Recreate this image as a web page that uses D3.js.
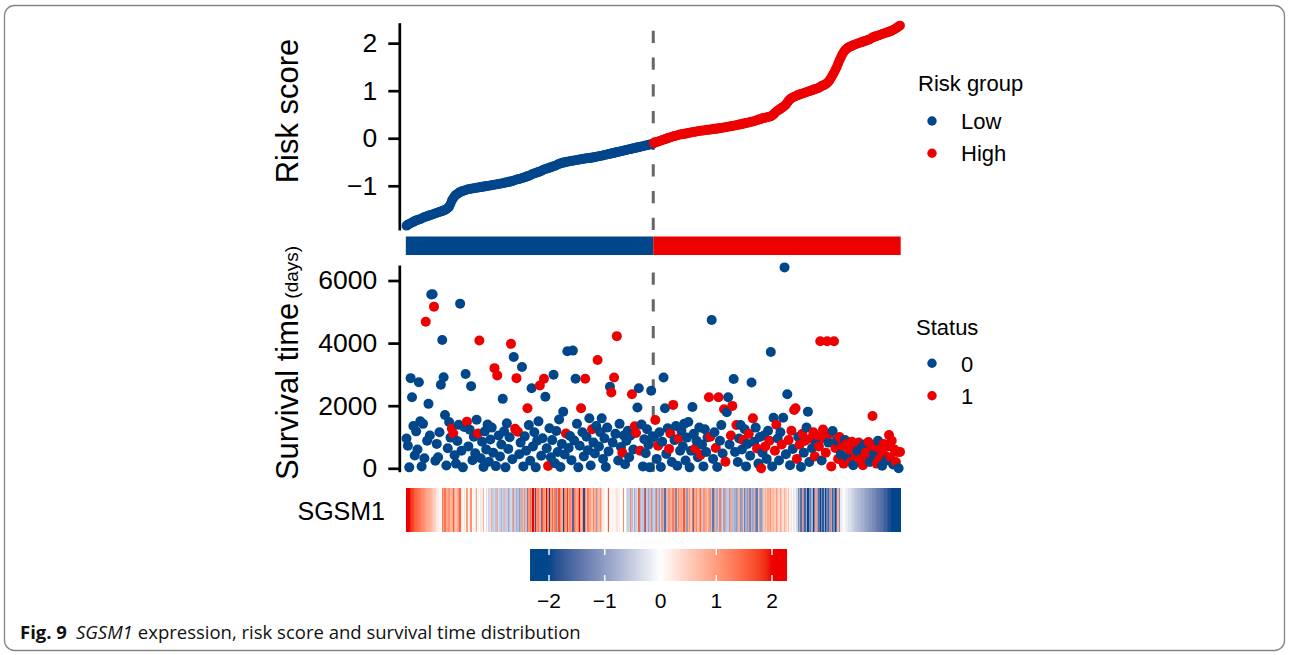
<!DOCTYPE html>
<html><head><meta charset="utf-8">
<script src="https://cdn.jsdelivr.net/npm/d3@7"></script>
<style>html,body{margin:0;padding:0;background:#fff;} svg{display:block;}</style>
</head><body>
<svg id="chart" width="1290" height="655"></svg>
<script>
// ---- data (one entry per patient, ordered by risk score) ----
const riskScore = [
-1.84,-1.82,-1.80,-1.79,-1.77,-1.76,-1.74,-1.73,-1.72,-1.71,-1.70,-1.69,-1.67,-1.66,-1.65,-1.64,-1.63,-1.62,-1.61,-1.60,
-1.59,-1.58,-1.57,-1.56,-1.55,-1.54,-1.53,-1.52,-1.51,-1.49,-1.47,-1.44,-1.38,-1.31,-1.26,-1.22,-1.19,-1.17,-1.15,-1.13,
-1.12,-1.11,-1.10,-1.09,-1.08,-1.07,-1.07,-1.06,-1.06,-1.05,-1.05,-1.04,-1.04,-1.03,-1.03,-1.02,-1.02,-1.01,-1.01,-1.00,
-1.00,-0.99,-0.99,-0.98,-0.98,-0.97,-0.97,-0.96,-0.96,-0.95,-0.95,-0.94,-0.93,-0.93,-0.92,-0.91,-0.91,-0.90,-0.89,-0.88,
-0.87,-0.86,-0.86,-0.85,-0.84,-0.83,-0.82,-0.81,-0.80,-0.79,-0.78,-0.76,-0.75,-0.74,-0.73,-0.72,-0.71,-0.70,-0.69,-0.67,
-0.66,-0.65,-0.64,-0.63,-0.62,-0.61,-0.60,-0.59,-0.58,-0.57,-0.55,-0.54,-0.53,-0.52,-0.51,-0.51,-0.50,-0.49,-0.49,-0.48,
-0.48,-0.47,-0.47,-0.46,-0.46,-0.45,-0.45,-0.44,-0.44,-0.43,-0.43,-0.42,-0.42,-0.42,-0.41,-0.41,-0.40,-0.40,-0.39,-0.38,
-0.38,-0.37,-0.37,-0.36,-0.35,-0.35,-0.34,-0.33,-0.33,-0.32,-0.31,-0.31,-0.30,-0.29,-0.29,-0.28,-0.27,-0.27,-0.26,-0.25,
-0.25,-0.24,-0.23,-0.23,-0.22,-0.21,-0.21,-0.20,-0.19,-0.19,-0.18,-0.17,-0.17,-0.16,-0.15,-0.15,-0.14,-0.13,-0.13,-0.12,
-0.10,-0.09,-0.08,-0.07,-0.06,-0.05,-0.04,-0.03,-0.02,-0.01,0.00,0.01,0.02,0.03,0.04,0.05,0.05,0.06,0.07,0.08,
0.08,0.09,0.09,0.10,0.10,0.11,0.12,0.12,0.13,0.13,0.14,0.14,0.15,0.15,0.16,0.16,0.16,0.17,0.17,0.18,
0.18,0.18,0.19,0.19,0.20,0.20,0.20,0.21,0.21,0.22,0.22,0.23,0.23,0.24,0.24,0.25,0.25,0.26,0.26,0.27,
0.27,0.28,0.29,0.29,0.30,0.31,0.31,0.32,0.33,0.33,0.34,0.35,0.35,0.36,0.37,0.38,0.39,0.40,0.41,0.42,
0.43,0.43,0.44,0.45,0.45,0.46,0.48,0.50,0.53,0.56,0.58,0.60,0.62,0.64,0.66,0.68,0.71,0.75,0.79,0.82,
0.84,0.86,0.87,0.88,0.90,0.91,0.92,0.93,0.94,0.95,0.96,0.97,0.98,0.99,1.00,1.01,1.02,1.03,1.04,1.05,
1.06,1.08,1.10,1.11,1.12,1.14,1.16,1.19,1.23,1.28,1.33,1.38,1.44,1.50,1.57,1.64,1.70,1.76,1.81,1.85,
1.88,1.90,1.92,1.93,1.94,1.96,1.97,1.98,1.99,2.00,2.01,2.02,2.03,2.04,2.05,2.06,2.07,2.08,2.10,2.12,
2.13,2.14,2.15,2.16,2.17,2.18,2.19,2.20,2.21,2.22,2.23,2.24,2.25,2.26,2.28,2.29,2.31,2.33,2.35,2.37];

const survivalDays = [
950,720,30,2880,2270,1350,410,1180,600,2750,1500,60,1420,320,4680,880,2058,1050,5550,5560,
5165,240,780,350,1150,2670,4100,2910,1704,90,640,1480,980,1270,1110,420,150,870,1390,5260,
560,30,1320,3010,1490,700,1230,2625,260,1010,480,1550,1110,4080,320,850,40,1180,600,1400,
210,920,1300,500,3200,70,2968,1050,380,760,2218,1180,30,1435,620,990,3975,290,3556,1260,
2880,1170,450,820,3235,60,1020,560,1916,1380,240,2560,700,1150,30,880,1500,2645,400,960,
2860,2283,640,75,1280,350,900,2990,160,1190,520,1560,40,780,1810,440,1110,3740,650,1030,
260,3760,890,2860,1420,30,720,1917,1150,380,2860,1010,580,1600,90,1250,820,470,1350,3460,
700,1150,1595,300,960,40,1300,540,2604,2420,820,2903,1100,4222,250,1420,680,500,1050,130,
880,1200,350,1050,2367,600,1340,1130,1940,2560,560,1400,60,930,480,1250,750,30,2475,1020,
1000,1543,300,720,1150,40,850,2903,1917,460,1280,620,1110,200,2025,900,1350,80,950,560,
1200,700,1420,250,980,1480,30,560,1960,1100,630,880,350,1300,437,760,60,1250,520,990,
2270,1006,4735,300,1150,650,40,2270,880,1380,470,1885,210,1788,2270,760,1050,1993,2850,520,
1383,200,950,1383,600,900,1250,60,780,1100,400,2743,1595,850,1300,630,150,1000,0,500,
1050,700,300,1200,880,3717,60,1615,560,1390,950,250,1150,760,1615,6418,450,2367,900,100,
1200,620,1865,1917,300,1000,750,40,1100,500,880,1300,1810,200,950,640,1150,380,800,1050,
700,4060,250,1240,950,500,4060,820,1100,60,1190,4060,650,880,300,1000,450,720,150,900,
780,350,600,200,850,100,700,420,550,820,280,640,100,760,500,300,840,200,600,1672,
450,700,150,880,300,600,80,780,400,250,700,1060,350,880,120,600,200,520,0,524];

const vitalStatus = [
0,0,0,0,0,0,0,0,0,0,0,0,0,0,1,0,0,0,0,0,
1,0,0,0,0,0,0,0,0,0,0,0,0,1,1,0,0,0,0,0,
0,0,0,0,1,0,0,0,0,0,0,0,1,1,0,0,0,0,0,0,
0,0,0,0,1,0,1,0,0,0,0,0,0,0,0,0,1,0,0,1,
1,1,0,0,0,0,0,0,1,0,0,0,0,0,0,0,0,1,0,0,
1,0,0,1,0,0,0,0,0,0,0,0,0,0,0,0,1,0,0,0,
0,0,0,0,0,0,0,1,0,0,1,0,0,0,0,1,0,0,0,1,
0,0,0,0,0,0,0,0,0,1,0,1,0,1,0,0,0,1,0,0,
0,0,0,0,1,0,1,1,0,0,1,0,0,0,0,0,0,0,0,0,
0,1,0,1,0,0,0,0,0,0,0,1,1,0,1,0,0,0,1,0,
0,0,0,0,0,0,0,0,0,0,1,0,0,0,1,0,0,0,0,0,
1,1,0,0,0,1,0,1,0,0,0,1,1,0,0,0,1,1,0,0,
1,0,0,0,0,1,0,0,0,1,0,0,1,0,0,1,0,0,1,0,
0,1,0,0,1,0,0,0,1,1,0,0,0,1,0,0,0,0,1,0,
1,0,1,1,1,0,1,0,1,0,1,0,0,0,1,0,1,1,0,1,
1,1,0,1,1,1,1,0,1,1,0,1,1,0,1,1,0,1,1,0,
1,0,1,1,1,0,1,1,0,1,1,0,1,0,1,1,1,0,1,1,
0,1,1,0,1,1,0,1,1,0,1,1,1,1,0,1,1,1,0,1];

const sgsm1Expr = [
2.27,2.1,2.0,1.9,1.8,1.7,1.6,1.5,1.45,1.4,1.3,1.2,1.15,1.1,1.0,0.9,0.85,0.8,0.7,0.6,
0.5,0.4,0.3,0.2,0.1,0.05,1.3,1.0,1.4,0.8,0.9,1.1,0.7,0.8,1.6,0.9,0.6,0.9,1.0,1.5,
0.2,0.1,0.3,0.0,1.0,0.1,0.2,1.1,0.0,-0.1,0.3,0.9,0.1,0.0,-0.2,0.2,0.8,0.0,-0.3,0.1,
-0.4,-0.3,0.9,-0.5,-0.4,-0.6,1.0,-0.3,-0.5,-0.8,-0.4,-0.6,0.7,-0.5,-0.9,-0.6,-0.4,-0.7,1.2,-0.5,
-0.8,-0.6,-1.0,-0.7,1.0,-0.5,-0.9,0.8,-1.3,1.1,1.4,1.0,2.2,1.2,-1.8,1.1,1.3,0.9,-1.5,1.6,
1.1,0.9,2.0,1.2,-2.0,1.0,1.5,0.8,1.3,-1.2,1.0,1.7,1.1,0.9,-2.2,1.3,1.0,1.8,0.8,1.2,
1.0,-1.6,1.4,1.1,0.9,1.2,2.1,0.8,1.0,-1.9,1.1,0.7,1.3,0.9,1.0,0.6,1.2,0.8,-1.0,0.9,
0.7,1.1,0.6,0.2,0.1,0.0,0.3,1.6,0.1,0.0,0.2,0.1,-0.1,0.3,0.1,0.2,0.0,0.1,1.2,0.0,
-0.3,-0.5,-0.4,1.2,-0.6,-0.3,-0.8,-0.5,-0.4,1.5,-0.7,-0.5,-0.6,-1.2,1.8,-0.5,-0.9,-0.6,1.3,-0.7,
-0.5,-0.8,1.4,-0.6,-1.0,-0.4,1.2,-0.7,-1.5,-0.6,0.8,1.1,0.9,0.7,1.3,1.0,-1.2,0.8,1.2,0.9,
1.0,0.7,1.6,0.9,-1.0,0.8,1.1,0.6,1.4,-1.5,0.9,1.2,0.7,1.0,1.5,0.8,-0.8,1.1,0.9,0.6,
1.0,-0.9,0.8,-1.4,1.2,-0.6,-0.8,-0.5,1.3,-0.7,-0.4,-0.9,1.0,-0.6,-0.5,-1.0,0.9,-0.7,-0.6,-0.8,
-1.0,-0.8,0.8,-1.1,-0.9,0.7,-1.3,-0.8,-1.0,1.0,-1.2,-0.7,-0.9,0.9,-1.1,-1.4,0.6,-0.8,-1.0,-0.7,
0.6,0.8,0.5,0.9,0.7,1.1,0.6,0.8,0.5,1.0,0.7,0.4,0.9,0.6,0.3,0.8,0.5,0.2,0.6,0.1,
0.3,0.0,-0.2,0.1,-0.4,-1.2,-0.8,-1.5,1.2,-1.0,-1.6,-0.9,-2.0,-1.1,-1.4,-0.8,-2.2,-1.3,1.0,-1.0,
-1.5,-2.1,-1.2,-1.8,-0.9,-2.3,-1.3,-1.6,-1.0,1.1,-1.7,-1.2,-2.0,-1.4,0.8,-1.1,-0.2,-0.1,0.0,-0.1,
-0.2,-0.2,-0.3,-0.3,-0.4,-0.5,-0.5,-0.6,-0.6,-0.7,-0.7,-0.8,-0.8,-0.9,-0.9,-1.0,-1.0,-1.1,-1.1,-1.2,
-1.2,-1.3,-1.3,-1.4,-1.4,-1.5,-1.5,-1.6,-1.7,-1.7,-1.8,-1.9,-1.9,-2.0,-2.1,-2.1,-2.2,-2.2,-2.3,-2.34];

const riskTicks = [-1, 0, 1, 2];
const survivalTicks = [0, 2000, 4000, 6000];
const exprTicks = [-2, -1, 0, 1, 2];
const groupLevels = ["Low", "High"];
const statusLevels = [0, 1];

// ---- drawing ----
const BLUE = "#00468B", RED = "#ED0000";
const FONT = "'Liberation Sans', Arial, Helvetica, sans-serif";
const N = riskScore.length;
const svg = d3.select("#chart");

svg.append("rect").attr("x", 4.5).attr("y", 5.5).attr("width", 1280).attr("height", 645)
  .attr("rx", 10).attr("fill", "none").attr("stroke", "#858585").attr("stroke-width", 1.3);

const x = d3.scaleLinear().domain([0, N - 1]).range([406.5, 900]);
const step = x(1) - x(0);
const yRisk = d3.scaleLinear().domain([-1.93, 2.43]).range([230, 22.7]);
const ySurv = d3.scaleLinear().domain([-109, 6495]).range([471.7, 265]);
const groupColor = d3.scaleOrdinal().domain(groupLevels).range([BLUE, RED]);
const statusColor = d3.scaleOrdinal().domain(statusLevels).range([BLUE, RED]);
const exprColor = d3.scaleLinear().domain([-2, 0, 2]).range([BLUE, "#FFFFFF", RED])
  .interpolate(d3.interpolateLab).clamp(true);
const fmt = d3.format("d");

const cutoff = d3.median(riskScore);
const group = riskScore.map(v => v > cutoff ? "High" : "Low");
const nLow = group.filter(g => g === "Low").length;
const cutX = x(nLow - 0.5);

function styleAxis(g) {
  g.select(".domain").attr("stroke", "#000").attr("stroke-width", 2.7);
  g.selectAll(".tick line").attr("stroke", "#000").attr("stroke-width", 2.7);
  g.selectAll(".tick text").attr("fill", "#000").style("font-family", FONT).style("font-size", "26.5px");
}

// top panel: risk score
svg.append("g").attr("transform", "translate(399.3,0)")
  .call(d3.axisLeft(yRisk).tickValues(riskTicks).tickSize(11).tickSizeOuter(0).tickPadding(11).tickFormat(fmt))
  .call(styleAxis);

svg.append("line").attr("x1", cutX).attr("x2", cutX).attr("y1", 230).attr("y2", 22.7)
  .attr("stroke", "#666").attr("stroke-width", 3).attr("stroke-dasharray", "12.3,14.4");

svg.append("g").selectAll("circle").data(riskScore).join("circle")
  .attr("cx", (d, i) => x(i)).attr("cy", d => yRisk(d)).attr("r", 4.9)
  .attr("fill", (d, i) => groupColor(group[i]));

svg.append("text").attr("transform", "translate(298,111) rotate(-90)")
  .attr("text-anchor", "middle").style("font-family", FONT).style("font-size", "31px")
  .text("Risk score");

// risk group bar: merge consecutive samples of the same group into one tile
const runs = [];
group.forEach((g, i) => {
  const last = runs[runs.length - 1];
  if (last && last.g === g) last.end = i; else runs.push({ g, start: i, end: i });
});
svg.append("g").selectAll("rect").data(runs).join("rect")
  .attr("x", d => x(d.start) - step / 2).attr("width", d => x(d.end) - x(d.start) + step)
  .attr("y", 236.5).attr("height", 18.5).attr("fill", d => groupColor(d.g));

// legend: risk group
svg.append("text").attr("x", 918).attr("y", 91).style("font-family", FONT).style("font-size", "22px").text("Risk group");
groupLevels.forEach((g, k) => {
  svg.append("circle").attr("cx", 932).attr("cy", 121 + k * 32.3).attr("r", 4.7).attr("fill", groupColor(g));
  svg.append("text").attr("x", 961).attr("y", 129 + k * 32.3).style("font-family", FONT).style("font-size", "22px").text(g);
});

// bottom panel: survival
svg.append("g").attr("transform", "translate(399.3,0)")
  .call(d3.axisLeft(ySurv).tickValues(survivalTicks).tickSize(11).tickSizeOuter(0).tickPadding(11).tickFormat(fmt))
  .call(styleAxis);

svg.append("line").attr("x1", cutX).attr("x2", cutX).attr("y1", 471.7).attr("y2", 265)
  .attr("stroke", "#666").attr("stroke-width", 3).attr("stroke-dasharray", "12.3,14.4");

svg.append("g").selectAll("circle").data(survivalDays).join("circle")
  .attr("cx", (d, i) => x(i)).attr("cy", d => ySurv(d)).attr("r", 5)
  .attr("fill", (d, i) => statusColor(vitalStatus[i]));

const st = svg.append("text").attr("transform", "translate(298,363) rotate(-90)")
  .attr("text-anchor", "middle").style("font-family", FONT);
st.append("tspan").style("font-size", "31px").text("Survival time");
st.append("tspan").attr("dx", 4).style("font-size", "19px").text("(days)");

// legend: status
svg.append("text").attr("x", 916).attr("y", 335).style("font-family", FONT).style("font-size", "22px").text("Status");
statusLevels.forEach((s, k) => {
  svg.append("circle").attr("cx", 932).attr("cy", 363.3 + k * 32.4).attr("r", 4.7).attr("fill", statusColor(s));
  svg.append("text").attr("x", 961).attr("y", 371.5 + k * 32.4).style("font-family", FONT).style("font-size", "22px").text(String(s));
});

// SGSM1 heat strip
svg.append("g").attr("shape-rendering", "crispEdges").selectAll("rect").data(sgsm1Expr).join("rect")
  .attr("x", (d, i) => x(i) - step / 2).attr("width", step + 0.5)
  .attr("y", 488).attr("height", 44).attr("fill", d => exprColor(d));
svg.append("text").attr("x", 385).attr("y", 520).attr("text-anchor", "end")
  .style("font-family", FONT).style("font-size", "25px").text("SGSM1");

// colour bar legend
const lx = d3.scaleLinear().domain([-2, 2]).range([549, 772]);
const [emin, emax] = d3.extent(sgsm1Expr);
const defs = svg.append("defs");
const grad = defs.append("linearGradient").attr("id", "exprGrad")
  .attr("gradientUnits", "userSpaceOnUse").attr("x1", lx(emin)).attr("x2", lx(emax)).attr("y1", 0).attr("y2", 0);
d3.range(0, 1.0001, 0.02).forEach(t => {
  const v = emin + t * (emax - emin);
  grad.append("stop").attr("offset", t).attr("stop-color", exprColor(v));
});
svg.append("rect").attr("x", lx(emin)).attr("width", lx(emax) - lx(emin))
  .attr("y", 549).attr("height", 32).attr("fill", "url(#exprGrad)");
const lt = svg.append("g");
exprTicks.forEach(t => {
  lt.append("line").attr("x1", lx(t)).attr("x2", lx(t)).attr("y1", 549).attr("y2", 555)
    .attr("stroke", "#fff").attr("stroke-width", 1.4);
  lt.append("line").attr("x1", lx(t)).attr("x2", lx(t)).attr("y1", 575).attr("y2", 581)
    .attr("stroke", "#fff").attr("stroke-width", 1.4);
  lt.append("text").attr("x", lx(t)).attr("y", 608).attr("text-anchor", "middle")
    .style("font-family", FONT).style("font-size", "21px").text(fmt(t));
});

// caption
const cap = svg.append("text").attr("x", 20).attr("y", 639)
  .style("font-family", "'Open Sans', 'Noto Sans', sans-serif").style("font-size", "18.5px").attr("fill", "#111");
cap.append("tspan").style("font-weight", "bold").text("Fig. 9");
cap.append("tspan").attr("dx", 9).style("font-style", "italic").text("SGSM1");
cap.append("tspan").attr("dx", 5).text("expression, risk score and survival time distribution");
</script>
</body></html>
